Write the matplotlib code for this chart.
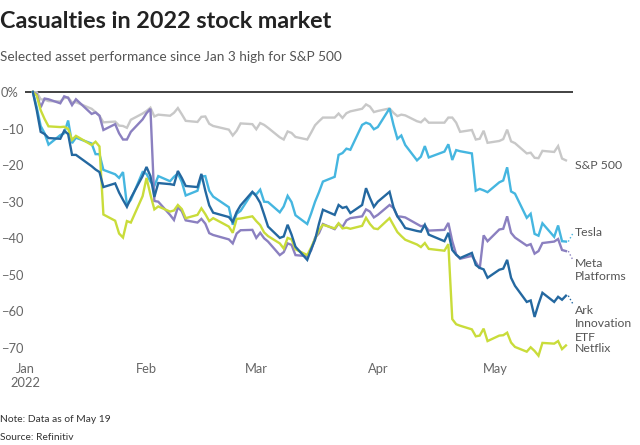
import matplotlib
matplotlib.use("Agg")
import matplotlib.pyplot as plt
import pandas as pd

plt.rcParams['font.family'] = ['Lato', 'DejaVu Sans']

# trading days Jan 3 - May 19, 2022
holidays = ['2022-01-17', '2022-02-21', '2022-04-15']
dates = [d for d in pd.bdate_range('2022-01-03', '2022-05-19') if d.strftime('%Y-%m-%d') not in holidays]

sp500 = [0, -0.1, -2.0, -2.1, -2.5, -2.6, -1.7, -1.5, -2.9, -2.8, -4.6, -5.5, -6.5, -8.3, -8.1, -9.2, -9.3, -9.8, -7.6, -5.9,
         -5.2, -4.3, -6.7, -6.2, -6.5, -5.7, -4.4, -6.1, -7.9, -8.2, -6.8, -6.7, -8.7, -9.3, -10.3, -11.9, -10.6, -8.6, -8.8,
         -10.2, -8.5, -9.0, -9.8, -12.4, -13.0, -10.8, -11.2, -12.3, -13.0, -11.1, -9.1, -8.0, -7.0, -7.0, -5.9, -7.1, -5.8, -5.3, -4.6, -3.4, -4.0, -5.5,
         -5.2, -4.5, -5.7, -6.6, -6.2, -6.4, -8.0, -8.3, -7.3, -8.4, -8.4, -7.0, -7.0, -8.4, -10.9, -10.4, -13.0, -12.8, -10.6, -13.9,
         -13.4, -12.9, -10.3, -13.5, -14.0, -16.8, -16.6, -18.0, -18.1, -16.1, -16.4, -14.8, -18.2, -18.7]

tesla = [0, -4.2, -9.3, -11.3, -14.4, -11.8, -11.3, -7.8, -14.0, -12.5, -14.1, -17.0, -17.0, -21.3, -22.5, -23.5, -21.9, -30.9, -29.5, -21.9,
         -22.4, -24.5, -25.7, -23.0, -24.4, -23.2, -22.3, -24.6, -28.3, -27.0, -23.1, -23.0, -27.0, -28.6, -31.5, -36.3, -33.3, -32.5, -27.5,
         -28.0, -26.7, -30.0, -30.1, -32.9, -31.3, -28.4, -30.1, -33.7, -36.1, -33.2, -30.0, -27.4, -24.5, -23.2, -17.2, -16.7, -15.5, -15.8, -9.0, -8.4, -8.8, -10.2,
         -9.6, -4.5, -9.0, -12.8, -11.9, -14.5, -18.7, -17.7, -14.8, -17.9, -16.3, -14.3, -18.6, -15.9, -16.2, -16.8, -27.0, -26.5, -26.9, -27.4,
         -24.7, -24.2, -20.6, -27.2, -27.8, -34.4, -33.3, -38.8, -39.3, -35.9, -39.6, -36.5, -40.8, -40.9]

meta = [0, -0.6, -4.2, -1.8, -2.0, -3.1, -1.2, -1.6, -3.6, -2.0, -6.0, -5.6, -6.5, -10.4, -8.8, -11.3, -13.0, -13.0, -10.9, -7.5,
        -5.8, -4.6, -29.8, -30.0, -33.6, -35.0, -31.5, -32.6, -35.1, -35.7, -34.7, -36.0, -38.6, -39.1, -40.3, -41.4, -38.7, -37.8, -37.7,
        -39.9, -38.5, -40.0, -40.9, -44.6, -43.8, -41.4, -41.8, -44.6, -44.9, -43.3, -39.9, -38.6, -36.1, -37.5, -36.0, -36.9, -35.1, -34.5, -34.0, -32.1, -32.7, -34.3,
        -33.6, -30.9, -31.7, -34.0, -34.1, -34.3, -36.1, -36.7, -36.5, -37.9, -37.7, -35.8, -40.8, -44.4, -45.6, -44.8, -46.5, -48.3, -39.2, -40.8,
        -37.6, -37.4, -34.0, -38.5, -39.8, -42.0, -41.6, -44.2, -43.5, -41.3, -40.9, -40.2, -43.2, -43.5]

ark = [0, -5.0, -10.9, -11.5, -12.6, -12.8, -10.6, -11.5, -17.2, -17.2, -20.3, -21.2, -21.9, -26.0, -25.0, -27.5, -29.5, -31.4, -29.0, -23.0,
       -20.5, -23.0, -28.7, -24.9, -25.2, -25.4, -21.6, -23.5, -25.7, -26.0, -22.4, -27.0, -31.0, -33.0, -34.2, -35.5, -32.8, -31.0, -27.3,
       -28.5, -30.3, -33.5, -36.8, -39.9, -39.5, -36.3, -39.0, -42.3, -45.9, -43.0, -40.4, -36.0, -32.2, -33.6, -30.9, -31.7, -31.4, -33.1, -30.9, -26.3, -29.0, -31.4,
       -30.0, -27.3, -31.5, -34.0, -35.5, -37.2, -38.0, -38.2, -36.3, -39.0, -40.8, -38.5, -43.2, -44.5, -45.4, -44.0, -47.3, -48.1, -48.5, -50.8,
       -48.6, -48.3, -45.9, -50.8, -53.0, -57.4, -57.0, -61.5, -58.0, -54.9, -57.4, -56.0, -56.8, -55.7]

netflix = [0, -1.0, -5.0, -7.4, -9.4, -9.6, -9.5, -10.1, -13.1, -12.0, -14.5, -13.6, -14.9, -33.5, -35.2, -38.7, -39.8, -35.3, -35.7, -28.5,
           -23.5, -28.1, -32.1, -31.3, -32.7, -32.4, -30.9, -32.0, -34.5, -33.6, -31.8, -33.4, -35.3, -34.5, -36.8, -38.5, -34.7, -34.6, -34.0,
           -35.3, -36.4, -38.4, -39.4, -41.4, -42.8, -39.9, -40.3, -43.0, -44.6, -42.5, -40.1, -37.8, -36.3, -37.3, -35.9, -37.3, -37.1, -37.4, -36.6, -34.4, -36.1, -37.3,
           -37.5, -34.5, -36.4, -38.3, -39.4, -40.4, -41.7, -42.4, -41.3, -42.9, -43.4, -41.6, -62.1, -63.5, -63.9, -64.9, -66.8, -66.6, -64.7, -68.1,
           -66.6, -66.5, -65.8, -68.5, -69.7, -71.0, -69.8, -70.8, -72.1, -68.6, -68.8, -68.1, -70.3, -69.3]

series_names = ['S&P 500', 'Tesla', 'Meta\nPlatforms', 'Ark\nInnovation\nETF', 'Netflix']
series_colors = ['#c8c8c8', '#45b6e0', '#8b80c0', '#2468a0', '#c9dc3a']
label_y = [-20.0, -38.3, -48.7, -63.4, -70.0]

y_ticks = [0, -10, -20, -30, -40, -50, -60, -70]
y_tick_labels = ['0%', '\u221210', '\u221220', '\u221230', '\u221240', '\u221250', '\u221260', '\u221270']
x_ticks = ['2022-01-01', '2022-02-01', '2022-03-01', '2022-04-01', '2022-05-01']
x_tick_labels = ['Jan\n2022', 'Feb', 'Mar', 'Apr', 'May']

fig = plt.figure(figsize=(6.4, 4.45), dpi=100)
ax = fig.add_axes([25/640, 1-359/445, 548/640, (359-88.3)/445])

ax.axhline(0, color='#333333', lw=1.3, zorder=1)

values = [sp500, tesla, meta, ark, netflix]
zorders = [2, 3, 4, 6, 5]
for vals, col, z in zip(values, series_colors, zorders):
    ax.plot(dates, vals, color=col, lw=1.7, zorder=z, solid_joinstyle='miter')

t0 = pd.Timestamp('2022-01-01')
ax.set_xlim(t0, t0 + pd.Timedelta(days=139.8))
ax.set_ylim(-73, 1)

lab_x = t0 + pd.Timedelta(days=140.3)
for name, col, ly, vals in zip(series_names, series_colors, label_y, values):
    ax.text(lab_x, ly, name, ha='left', va='center', fontsize=8.8, color='#555555',
            linespacing=1.3, clip_on=False)

# dotted connectors
conn = [(1, -38.8), (2, -45.8), (3, -57.8)]
for i, ly in conn:
    ax.plot([pd.Timestamp('2022-05-19') + pd.Timedelta(days=0.6), t0 + pd.Timedelta(days=139.7)],
            [values[i][-1], ly], color=series_colors[i], lw=1, ls=':', clip_on=False)

ax.set_yticks(y_ticks)
ax.set_yticklabels(y_tick_labels)
ax.set_xticks([pd.Timestamp(d) for d in x_ticks])
ax.set_xticklabels(x_tick_labels)
ax.tick_params(axis='y', length=0, pad=17.5, labelsize=9.3, labelcolor='#666666')
ax.tick_params(axis='x', length=0, pad=3, labelsize=9.3, labelcolor='#666666')
for lbl in ax.get_yticklabels():
    lbl.set_ha('left')
for s in ax.spines.values():
    s.set_visible(False)
ax.grid(False)

fig.text(0.0, 1-22/445, 'Casualties in 2022 stock market', fontsize=16.8, fontweight='bold',
         color='#222222', ha='left', va='center')
fig.text(0.0, 1-57/445, 'Selected asset performance since Jan 3 high for S&P 500', fontsize=9.8,
         color='#555555', ha='left', va='center')
fig.text(0.0, 1-420/445, 'Note: Data as of May 19', fontsize=7.4, color='#333333', ha='left', va='center')
fig.text(0.0, 1-437/445, 'Source: Refinitiv', fontsize=7.4, color='#333333', ha='left', va='center')

fig.savefig('out.png', dpi=100)
